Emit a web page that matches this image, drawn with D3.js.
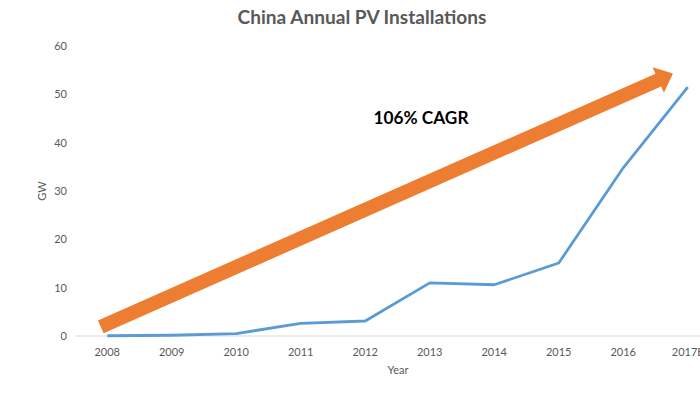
<!DOCTYPE html>
<html>
<head>
<meta charset="utf-8">
<script src="https://cdn.jsdelivr.net/npm/d3@7"></script>
<style>
  html, body { margin: 0; padding: 0; background: #fff; }
  svg { display: block; }
</style>
</head>
<body>
<svg id="chart" width="700" height="400"></svg>
<script>
// data
const years   = ["2008","2009","2010","2011","2012","2013","2014","2015","2016","2017E"];
const gw      = [0.05, 0.16, 0.5, 2.6, 3.1, 11.0, 10.6, 15.1, 34.8, 51.5];
const yTicks  = [0, 10, 20, 30, 40, 50, 60];
// trend arrow, in (category index, GW) units
const arrowFrom = [-0.1, 1.9];
const arrowTo   = [8.77, 54.3];
const arrowLabel = "106% CAGR";

const W = 700, H = 400;
const margin = { top: 46, right: -20, bottom: 64, left: 75 };
const grey = "#595959";
const font = "'Lato', 'Open Sans', sans-serif";

const svg = d3.select("#chart");

// category position as a continuous index so the arrow can sit between points
const x = d3.scaleLinear()
  .domain([-0.5, years.length - 0.5])
  .range([margin.left, W - margin.right]);
const y = d3.scaleLinear()
  .domain([0, 60])
  .range([H - margin.bottom, margin.top]);

// y tick labels (no axis line, no gridlines)
svg.append("g")
  .selectAll("text")
  .data(yTicks)
  .join("text")
    .attr("x", margin.left - 8)
    .attr("y", d => y(d))
    .attr("dy", "0.35em")
    .attr("text-anchor", "end")
    .attr("fill", grey)
    .attr("font-family", font)
    .attr("font-size", 11)
    .text(d => d);

// x axis baseline
svg.append("line")
  .attr("x1", x(-0.5)).attr("x2", x(years.length - 0.5))
  .attr("y1", y(0)).attr("y2", y(0))
  .attr("stroke", "#d9d9d9").attr("stroke-width", 1.2);

// x tick labels
svg.append("g")
  .selectAll("text")
  .data(years)
  .join("text")
    .attr("x", (d, i) => x(i))
    .attr("y", y(0) + 20)
    .attr("text-anchor", "middle")
    .attr("fill", grey)
    .attr("font-family", font)
    .attr("font-size", 11)
    .text(d => d);

// axis titles
svg.append("text")
  .attr("transform", `translate(46,${y(30)}) rotate(-90)`)
  .attr("text-anchor", "middle")
  .attr("fill", grey)
  .attr("font-family", font)
  .attr("font-size", 11)
  .text("GW");

svg.append("text")
  .attr("x", 398).attr("y", 374)
  .attr("text-anchor", "middle")
  .attr("fill", grey)
  .attr("font-family", font)
  .attr("font-size", 11)
  .text("Year");

// data line
const line = d3.line()
  .x((d, i) => x(i))
  .y(d => y(d));
svg.append("path")
  .datum(gw)
  .attr("fill", "none")
  .attr("stroke", "#5b9bd5")
  .attr("stroke-width", 2.8)
  .attr("stroke-linejoin", "round")
  .attr("d", line);

// orange trend arrow
const [sx, sy] = [x(arrowFrom[0]), y(arrowFrom[1])];
const [tx, ty] = [x(arrowTo[0]), y(arrowTo[1])];
const len = Math.hypot(tx - sx, ty - sy);
const ang = Math.atan2(ty - sy, tx - sx) * 180 / Math.PI;
const shaft = 14, headLen = 16, headW = 28;
svg.append("path")
  .attr("transform", `translate(${sx},${sy}) rotate(${ang})`)
  .attr("fill", "#ed7d31")
  .attr("d", d3.line()([
    [0, -shaft / 2],
    [len - headLen, -shaft / 2],
    [len - headLen, -headW / 2],
    [len, 0],
    [len - headLen, headW / 2],
    [len - headLen, shaft / 2],
    [0, shaft / 2]
  ]) + "Z");

// fit bold text to the width seen in the reference
function fitText(sel, target) {
  const w = sel.node().getComputedTextLength();
  const fs = +sel.attr("font-size");
  sel.attr("font-size", (fs * target / w).toFixed(2));
}

svg.append("text")
  .attr("x", 421).attr("y", 124)
  .attr("text-anchor", "middle")
  .attr("fill", "#000")
  .attr("font-family", font)
  .attr("font-weight", "bold")
  .attr("font-size", 17)
  .text(arrowLabel)
  .call(fitText, 95);

svg.append("text")
  .attr("x", 362).attr("y", 24)
  .attr("text-anchor", "middle")
  .attr("fill", grey)
  .attr("font-family", font)
  .attr("font-weight", "bold")
  .attr("font-size", 20)
  .text("China Annual PV Installations")
  .call(fitText, 249);
</script>
</body>
</html>
